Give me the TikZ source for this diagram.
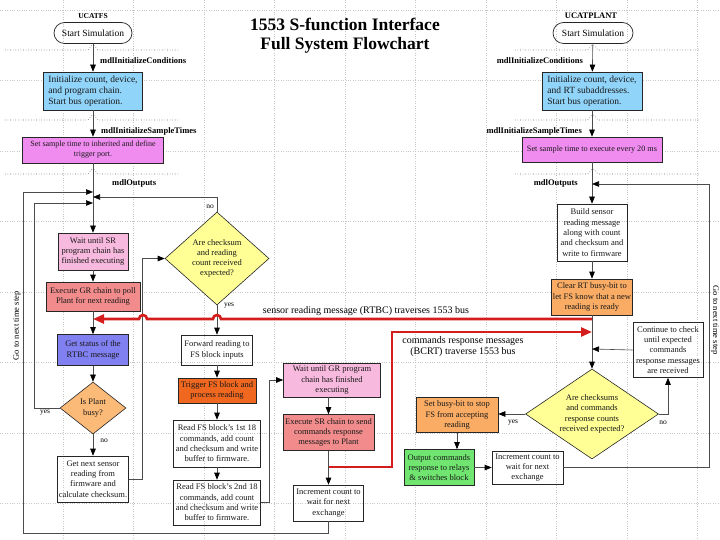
\documentclass[tikz,border=0pt]{standalone}
\usepackage{fontspec}
\setmainfont{Liberation Serif}
\usetikzlibrary{shapes.geometric,arrows.meta,calc}
\definecolor{cblue}{RGB}{145,212,250}
\definecolor{cmag}{RGB}{240,140,240}
\definecolor{cpink}{RGB}{248,185,222}
\definecolor{csalmon}{RGB}{242,140,140}
\definecolor{cperi}{RGB}{128,128,240}
\definecolor{cdia}{RGB}{252,186,120}
\definecolor{cyellow}{RGB}{255,255,150}
\definecolor{cdark}{RGB}{240,104,32}
\definecolor{corange}{RGB}{250,172,100}
\definecolor{cgreen}{RGB}{112,230,112}
\definecolor{cred}{RGB}{212,30,30}
\begin{document}
\begin{tikzpicture}[x=1pt,y=-1pt,
  box/.style={draw=black!85, line width=0.6pt, align=center, inner sep=1pt,
    font=\fontsize{8.5}{10.3}\selectfont, text=black!90},
  sz/.style 2 args={minimum width=#1pt, minimum height=#2pt},
  dia/.style={diamond, draw=black!85, line width=0.6pt, align=center, inner sep=0pt,
    font=\fontsize{8.5}{10.3}\selectfont, text=black!90},
  term/.style={draw=black!85, line width=0.7pt, rounded corners=10.5pt, minimum height=21pt,
    inner sep=0pt, font=\fontsize{9.5}{11}\selectfont},
  arr/.style={draw=black!70, line width=0.6pt, -{Triangle[length=7pt,width=5.5pt,color=black]}},
  conn/.style={draw=black!70, line width=0.6pt},
  bus/.style={draw=cred, line width=2.6pt},
  busarr/.style={bus, -{Triangle[length=11pt,width=9pt,color=cred]}},
  stage/.style={dotted, draw=black!60, line width=0.6pt},
  bggrid/.style={dotted, draw=black!22, line width=0.4pt},
  lbl/.style={font=\bfseries\fontsize{8.5}{10}\selectfont, inner sep=0pt},
  yn/.style={font=\fontsize{7.5}{9}\selectfont, inner sep=0pt},
  side/.style={font=\fontsize{8.5}{10}\selectfont, inner sep=0pt},
  buslbl/.style={font=\fontsize{10}{11}\selectfont, inner sep=0pt, align=center}
]
\useasboundingbox (0,0) rectangle (720,540);
\fill[white] (0,0) rectangle (720,540);
% background grid
\foreach \gx in {63,133.5,204,274.5,345,415.5,486,556.5,627,697.5}
  \draw[bggrid] (\gx,0) -- (\gx,540);
\foreach \gy in {10,80.5,151,221.5,292,362.5,433,503.5}
  \draw[bggrid] (0,\gy) -- (720,\gy);

% title
\node[font=\bfseries\fontsize{17.5}{19}\selectfont, align=center] (title) at (345,36)
  {1553 S-function Interface\\Full System Flowchart};

% stage separators
\foreach \sy in {50,120,174}{
  \draw[stage] (5,\sy) -- (87,\sy) .. controls (90,\sy) and (90,\sy-5) .. (93,\sy-5)
     .. controls (96,\sy-5) and (96,\sy) .. (99,\sy) -- (180,\sy);
  \draw[stage] (515,\sy) -- (587,\sy) .. controls (590,\sy) and (590,\sy-5) .. (593,\sy-5)
     .. controls (596,\sy-5) and (596,\sy) .. (599,\sy) -- (700,\sy);
}

% ---------- left column (UCATFS) ----------
\node[font=\bfseries\fontsize{7.5}{9}\selectfont, inner sep=0pt] (tfs) at (93,16) {UCATFS};
\node[term, minimum width=78pt] (s1) at (93,33) {Start Simulation};
\node[lbl, anchor=west] (lic1) at (100,61) {mdlInitializeConditions};
\node[box, sz={99}{38}, fill=cblue, align=left, font=\fontsize{9.5}{11.2}\selectfont] (b1) at (93,91)
  {Initialize count, device,\\and program chain.\\Start bus operation.};
\node[lbl, anchor=west] (lst1) at (101,131) {mdlInitializeSampleTimes};
\node[box, sz={141}{26}, fill=cmag, font=\fontsize{8}{10}\selectfont] (b2) at (93,150)
  {Set sample time to inherited and define\\trigger port.};
\node[lbl, anchor=west] (lout1) at (112,183) {mdlOutputs};
\node[box, sz={70}{37}, fill=cpink] (wsr) at (93,251.5) {Wait until SR\\program chain has\\finished executing};
\node[box, sz={94}{29}, fill=csalmon] (egr) at (93,296.5) {Execute GR chain to poll\\Plant for next reading};
\node[box, sz={71}{31}, fill=cperi] (gs) at (93,350) {Get status of the\\RTBC message};
\node[dia, minimum width=66pt, minimum height=52pt, shape aspect=1.27, fill=cdia] (ipb) at (93,408) {Is Plant\\busy?};
\node[box, sz={71}{46}] (gn) at (93,479) {Get next sensor\\reading from\\firmware and\\calculate checksum.};
\node[dia, minimum width=104pt, minimum height=93pt, shape aspect=1.12, fill=cyellow] (acr) at (217,258.5)
  {Are checksum\\and reading\\count received\\expected?};
\node[box, sz={71}{30}] (fw) at (217,350) {Forward reading to\\FS block inputs};
\node[box, sz={78}{25}, fill=cdark] (tr) at (217,390.5) {Trigger FS block and\\process reading};
\node[box, sz={87}{47}] (r1) at (217,443.5) {Read FS block's 1st 18\\commands, add count\\and checksum and write\\buffer to firmware.};
\node[box, sz={87}{45}] (r2) at (217,502.5) {Read FS block's 2nd 18\\commands, add count\\and checksum and write\\buffer to firmware.};
\node[box, sz={97}{34}, fill=cpink] (wgr) at (332,380) {Wait until GR program\\chain has finished\\executing};
\node[box, sz={91}{36}, fill=csalmon] (esr) at (328.5,432.5) {Execute SR chain to send\\commands response\\messages to Plant};
\node[box, sz={70}{36}] (inc1) at (328.5,503) {Increment count to\\wait for next\\exchange};

\node[side, rotate=90] (gtl) at (17,326) {Go to next time step};
\node[yn] (ylipb) at (45,413) {yes};
\node[yn] (nlipb) at (104,441) {no};
\node[yn] (nlacr) at (210,207) {no};
\node[yn] (ylacr) at (229,306) {yes};

% ---------- right column (UCATPLANT) ----------
\node[font=\bfseries\fontsize{8.5}{10}\selectfont, inner sep=0pt] (tpl) at (591,16) {UCATPLANT};
\node[term, minimum width=80pt] (s2) at (593,33) {Start Simulation};
\node[lbl, anchor=east] (lic2) at (583,61) {mdlInitializeConditions};
\node[box, sz={100}{38}, fill=cblue, align=left, font=\fontsize{9.5}{11.2}\selectfont] (pb1) at (592,91)
  {Initialize count, device,\\and RT subaddresses.\\Start bus operation.};
\node[lbl, anchor=east] (lst2) at (582,131) {mdlInitializeSampleTimes};
\node[box, sz={140}{25}, fill=cmag, font=\fontsize{8.2}{10}\selectfont] (pb2) at (592,149.5)
  {Set sample time to execute every 20 ms};
\node[lbl, anchor=east] (lout2) at (578,183) {mdlOutputs};
\node[box, sz={70}{57}] (bld) at (592,232.5) {Build sensor\\reading message\\along with count\\and checksum and\\write to firmware};
\node[box, sz={81}{36}, fill=corange] (clr) at (592,297) {Clear RT busy-bit to\\let FS know that a new\\reading is ready};
\node[box, sz={70}{55}] (cont) at (668,350) {Continue to check\\until expected\\commands\\response messages\\are received};
\node[dia, minimum width=133pt, minimum height=90pt, shape aspect=1.48, fill=cyellow] (acc) at (592,414)
  {Are checksums\\and commands\\response counts\\received expected?};
\node[box, sz={82}{35}, fill=corange] (sbb) at (457,415) {Set busy-bit to stop\\FS from accepting\\reading};
\node[box, sz={70}{36}, fill=cgreen] (out) at (439,467.5) {Output commands\\response to relays\\\& switches block};
\node[box, sz={71}{33}] (inc2) at (527.5,467.5) {Increment count to\\wait for next\\exchange};

\node[side, rotate=-90] (gtr) at (715,320) {Go to next time step};
\node[yn] (ylacc) at (513,423) {yes};
\node[yn] (nlacc) at (663,423) {no};

% bus labels
\node[buslbl] (bl1) at (366,311) {sensor reading message (RTBC) traverses 1553 bus};
\node[buslbl] (bl2) at (463,347) {commands response messages\\(BCRT) traverse 1553 bus};

% junction coordinates
\coordinate (m1) at (93,192);
\coordinate (m2) at (93,203);
\coordinate (m3) at (93,197);
\coordinate (m4) at (592,349);
\coordinate (m5) at (592,184);
\coordinate (lo) at (23,533);
\coordinate (ro) at (709,467.5);
\coordinate (rb1s) at (592,319);
\coordinate (rb1e) at (93,319);
\coordinate (rb2s) at (328.5,467);
\coordinate (rb2e) at (592,332);

% ---------- connectors left ----------
\draw[arr] (s1) -- (b1);
\draw[arr] (b1) -- (b2);
\draw[arr] (b2) -- (wsr);
\draw[arr] (wsr) -- (egr);
\draw[arr] (egr) -- (gs);
\draw[arr] (gs) -- (ipb);
\draw[arr] (ipb) -- (gn);
\draw[arr] (ipb.west) -- ++(-25,0) |- (m2);
\draw[arr] (gn.east) -| ($(acr.west)+(-22,0)$) -- (acr.west);
\draw[arr] (acr.north) |- (m3);
\draw[arr] (acr) -- (fw);
\draw[arr] (fw) -- (tr);
\draw[arr] (tr) -- (r1);
\draw[arr] (r1) -- (r2);
\draw[arr] (r2.east) -| ($(wgr.west)+(-14,0)$) -- (wgr.west);
\draw[arr] (wgr.south -| esr.north) -- (esr.north);
\draw[arr] (esr.south) -- (esr.south |- inc1.north);
\draw[arr] (inc1.south) |- (lo) |- (m1);

% ---------- connectors right ----------
\draw[arr] (s2) -- (pb1);
\draw[arr] (pb1) -- (pb2);
\draw[arr] (pb2) -- (bld);
\draw[arr] (bld) -- (clr);
\draw[arr] (clr.south) -- (acc.north);
\draw[arr] (cont.west) -- (m4);
\draw[arr] (acc.east) -| (cont.south);
\draw[arr] (acc.west) -- (acc.west -| sbb.east);
\draw[arr] (sbb.south) -- (sbb.south |- out.north);
\draw[arr] (out.east) -- (inc2.west);
\draw[arr] (inc2.east) -- (ro) |- (m5);

% ---------- 1553 bus ----------
\draw[busarr] (rb1s) -- (221,319) arc[start angle=0, end angle=-180, radius=4]
  -- (147,319) arc[start angle=0, end angle=-180, radius=4] -- (rb1e);
\draw[busarr] (rb2s) -- (392,467) |- (rb2e);
\end{tikzpicture}
\end{document}
